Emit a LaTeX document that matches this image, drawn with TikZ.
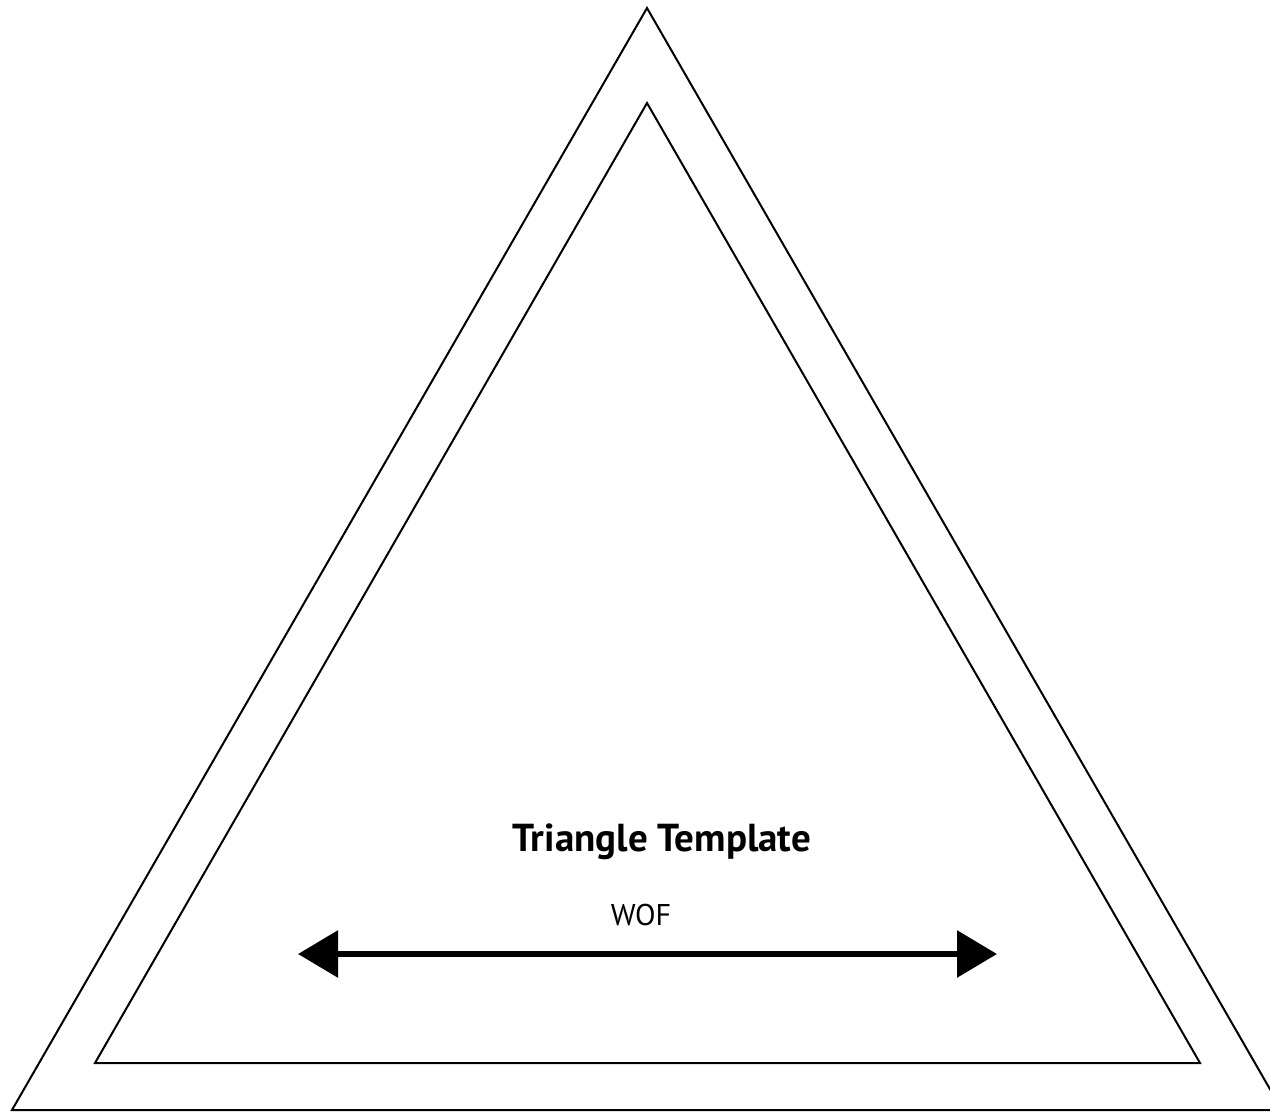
\documentclass[tikz,border=0pt]{standalone}
\usepackage{fontspec}
\setmainfont{PT Sans}
\usepackage{tikz}
\usetikzlibrary{arrows.meta}

\begin{document}
\begin{tikzpicture}[x=1pt, y=-1pt,
    edge/.style={line width=2pt, line join=miter},
    span/.style={line width=6pt, {Triangle[length=40pt, width=46pt]}-{Triangle[length=40pt, width=46pt]}}]
        \useasboundingbox (0, 0) rectangle (1270, 1112);
        \clip (0, 0) rectangle (1270, 1112);

        \coordinate (OT) at (647, 8);
        \coordinate (OL) at (12, 1110);
        \coordinate (OR) at (1282, 1110);

        \coordinate (IT) at (647, 103);
        \coordinate (IL) at (95, 1063);
        \coordinate (IR) at (1200, 1063);

        \draw[edge] (OT) -- (OL) -- (OR) -- cycle;
        \draw[edge] (IT) -- (IL) -- (IR) -- cycle;

        \node (title) at (662, 842) {\fontsize{39}{46}\selectfont\bfseries Triangle Template};
        \node (wof) at (641, 915) {\fontsize{30}{36}\selectfont WOF};

        \coordinate (L) at (298, 954);
        \coordinate (R) at (997, 954);
        \draw[span] (L) -- (R);
      \end{tikzpicture}
\end{document}
